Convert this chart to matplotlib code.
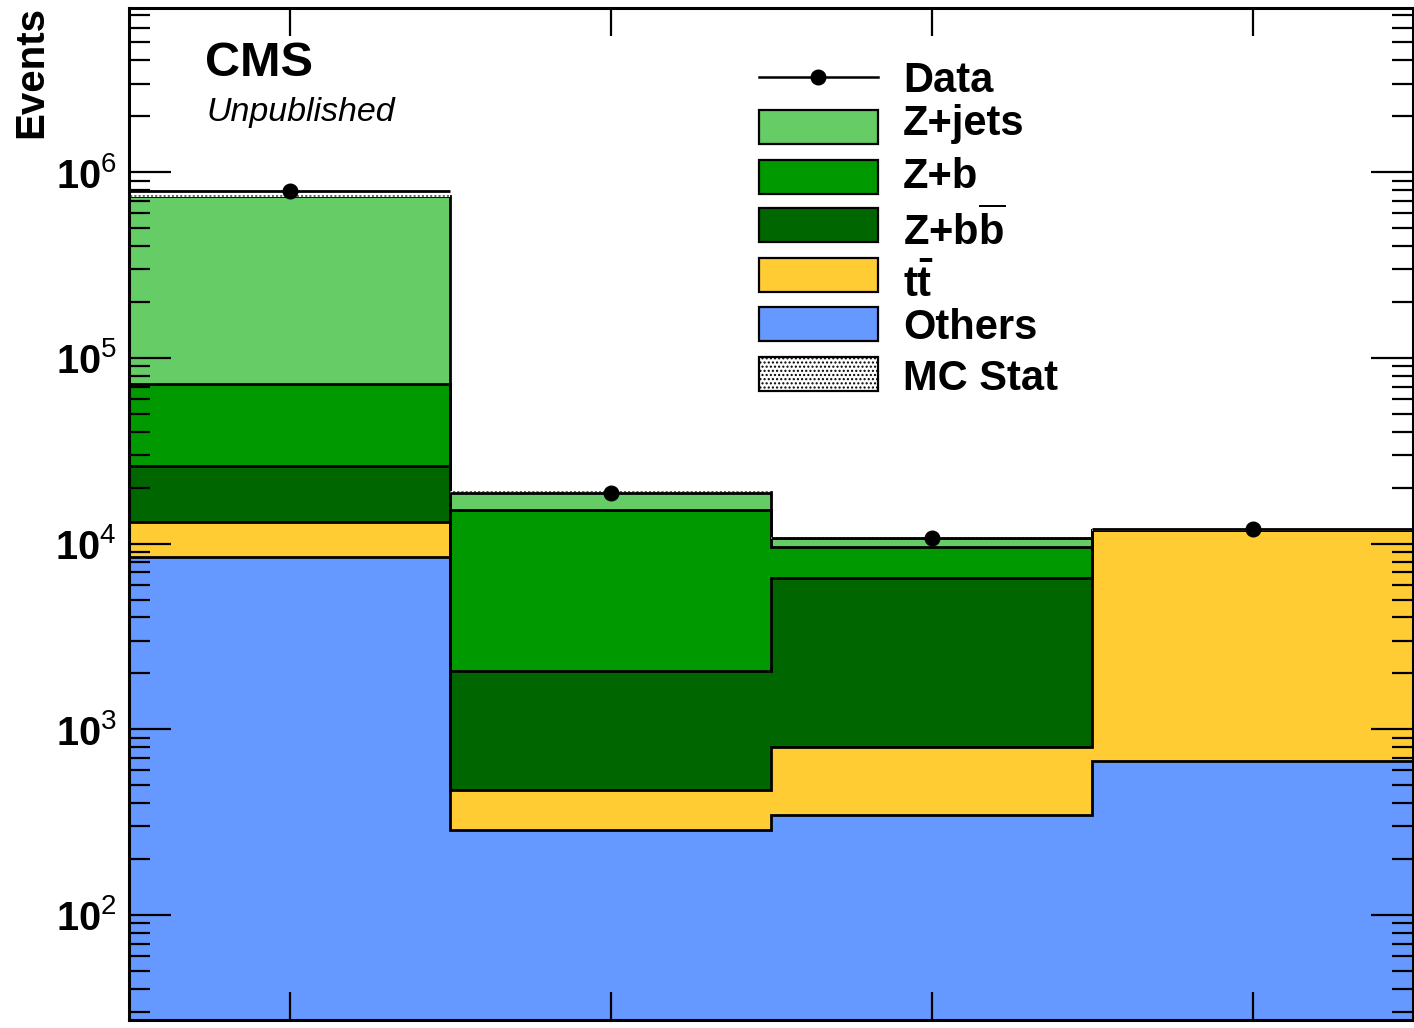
import numpy as np
import matplotlib
matplotlib.use("Agg")
import matplotlib.pyplot as plt
from matplotlib.patches import Rectangle
from matplotlib.lines import Line2D
from matplotlib.ticker import LogLocator, FixedLocator, FuncFormatter, NullFormatter, NullLocator

plt.rcParams['font.family'] = ['Liberation Sans', 'DejaVu Sans']
plt.rcParams['mathtext.fontset'] = 'custom'
plt.rcParams['mathtext.rm'] = 'Liberation Sans'
plt.rcParams['mathtext.bf'] = 'Liberation Sans:bold'
plt.rcParams['mathtext.it'] = 'Liberation Sans:italic'
plt.rcParams['mathtext.default'] = 'regular'
plt.rcParams['hatch.linewidth'] = 1.0

# ---------------- data ----------------
bin_edges = [0, 1, 2, 3, 4]
bin_centers = [0.5, 1.5, 2.5, 3.5]
others = [8430, 287, 346, 674]
ttbar = [4670, 184, 454, 11226]
zbb = [13100, 1599, 5700, 0]
zb = [46100, 13130, 3050, 0]
zjets = [672700, 3800, 1230, 0]
data = [7.92e5, 1.87e4, 1.077e4, 1.194e4]

sample_names = ['Others', r't$\mathbf{\bar{t}}$', r'Z+b$\mathbf{\overline{b}}$', 'Z+b', 'Z+jets']
sample_values = [others, ttbar, zbb, zb, zjets]
sample_colors = ['#6699ff', '#ffcc33', '#006600', '#009900', '#66cc66']

W, H = 1414, 1028
fig = plt.figure(figsize=(W / 100, H / 100), dpi=100)
ax = fig.add_axes([129 / W, 1 - 1020 / H, (1413 - 129) / W, (1020 - 8) / H])

edges = np.array(bin_edges, dtype=float)
bottom = np.full(4, 1e-3)
tops = []
for vals, col in zip(sample_values, sample_colors):
    top = bottom + np.array(vals, dtype=float)
    ax.stairs(top, edges, baseline=bottom, fill=True, color=col, lw=0, zorder=1)
    tops.append(top)
    bottom = top
for top in tops:
    ax.stairs(top, edges, baseline=None, color='black', lw=2.0, zorder=2)

total = tops[-1]
ax.stairs(total * 1.012, edges, baseline=total * 0.988, fill=True, facecolor='white',
          edgecolor='#555555', hatch='....', lw=0, zorder=3)

d = np.array(data)
ax.errorbar(bin_centers, d, xerr=0.5, yerr=np.sqrt(d), fmt='o', color='black',
            ms=10.5, lw=2.0, capsize=0, zorder=4)

ax.set_yscale('log')
ax.set_xlim(0, 4)
ax.set_ylim(27.2, 7.66e6)

ax.yaxis.set_major_locator(LogLocator(base=10, numticks=20))
ax.yaxis.set_minor_locator(LogLocator(base=10, subs=np.arange(2, 10), numticks=100))
ax.yaxis.set_minor_formatter(NullFormatter())
ax.yaxis.set_major_formatter(FuncFormatter(
    lambda v, p: r'$\mathbf{10}^{%d}$' % int(round(np.log10(v)))))
ax.xaxis.set_major_locator(FixedLocator(bin_centers))
ax.xaxis.set_minor_locator(NullLocator())
ax.set_xticklabels([])

ax.tick_params(axis='y', which='major', direction='in', length=30, width=1.6,
               left=True, right=True, labelsize=28.5, pad=9)
ax.tick_params(axis='y', which='minor', direction='in', length=15, width=1.6,
               left=True, right=True)
ax.tick_params(axis='x', which='major', direction='in', length=20, width=1.6,
               top=True, bottom=True)
for s in ax.spines.values():
    s.set_linewidth(2.2)
    s.set_zorder(10)

# axis title
fig.text(31 / W, 1 - 6 / H, 'Events', rotation=90, ha='center', va='top',
         fontsize=29, fontweight='bold')

# CMS labels
fig.text(205 / W, 1 - 76.5 / H, 'CMS', fontsize=35, fontweight='bold', va='baseline')
fig.text(206 / W, 1 - 120.5 / H, 'Unpublished', fontsize=24.5, style='italic', va='baseline')

# legend
bx0, bx1 = 759, 878
row_c = [77.3, 126.7, 176.5, 225.3, 275, 324, 374]
base = [91.7, 135, 188.3, 245, 296.7, 339.5, 390]
labels = ['Data', 'Z+jets', 'Z+b', r'Z+b$\mathbf{\overline{b}}$', r't$\mathbf{\bar{t}}$', 'Others', 'MC Stat']
fills = [None, '#66cc66', '#009900', '#006600', '#ffcc33', '#6699ff', 'white']

def fx(px):
    return px / W

def fy(py):
    return 1 - py / H

for i, (lab, fc) in enumerate(zip(labels, fills)):
    yc = row_c[i]
    if fc is None:
        fig.add_artist(Line2D([fx(bx0), fx(bx1)], [fy(yc), fy(yc)], color='black', lw=1.8,
                              transform=fig.transFigure))
        fig.add_artist(Line2D([fx(818)], [fy(yc)], marker='o', ms=10.5, color='black',
                              transform=fig.transFigure))
    else:
        hatch = '....' if lab == 'MC Stat' else None
        fig.add_artist(Rectangle((fx(bx0), fy(yc + 17)), (bx1 - bx0) / W, 34 / H,
                                 transform=fig.transFigure, facecolor=fc, edgecolor='black',
                                 lw=1.6, hatch=hatch))
    fig.text(fx(903), fy(base[i]), lab, fontsize=30, fontweight='bold', va='baseline')

fig.savefig('out.png', dpi=100)
